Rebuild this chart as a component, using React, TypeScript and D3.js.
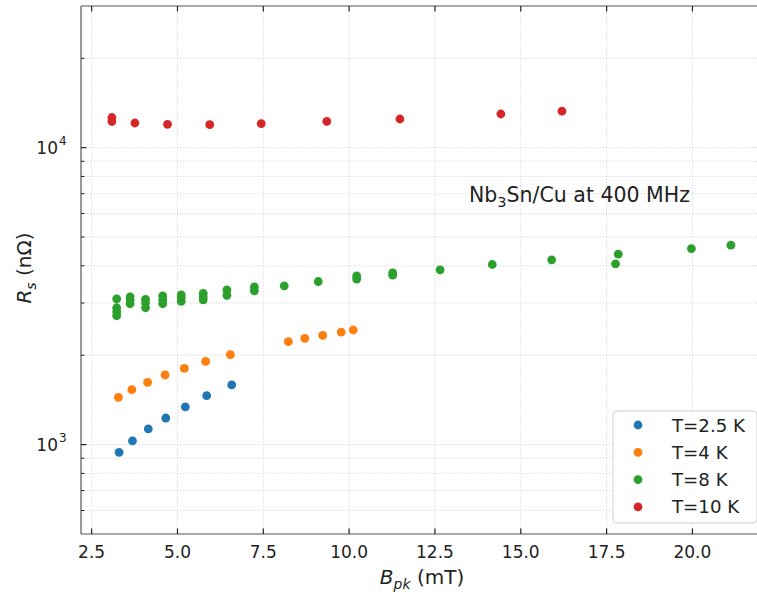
import React from "react";
import * as d3 from "d3";

const W = 757, H = 592;
const FONT = "'DejaVu Sans', sans-serif";

// T = 2.5 K
const b25 = [3.30, 3.69, 4.15, 4.66, 5.23, 5.85, 6.58];
const r25 = [942, 1029, 1129, 1229, 1339, 1462, 1588];
// T = 4 K
const b4 = [3.28, 3.67, 4.13, 4.64, 5.20, 5.82, 6.54, 8.23, 8.71, 9.23, 9.77, 10.12];
const r4 = [1443, 1531, 1620, 1716, 1806, 1906, 2008, 2221, 2279, 2332, 2394, 2432];
// T = 8 K
const b8 = [3.23, 3.23, 3.23, 3.23, 3.62, 3.62, 3.62, 4.07, 4.07, 4.07, 4.57, 4.57, 4.57,
  5.11, 5.11, 5.11, 5.75, 5.75, 5.75, 6.44, 6.44, 7.24, 7.24, 8.11, 9.10, 10.22, 10.22,
  11.27, 11.27, 12.65, 14.17, 15.90, 17.76, 17.84, 19.97, 21.12];
const r8 = [3098, 2890, 2802, 2716, 3146, 3074, 2981, 3086, 3004, 2890, 3170, 3074, 2981,
  3194, 3122, 3039, 3232, 3146, 3074, 3321, 3182, 3400, 3296, 3426, 3542, 3700, 3610,
  3790, 3720, 3879, 4042, 4191, 4063, 4379, 4574, 4696];
// T = 10 K
const b10 = [3.09, 3.09, 3.76, 4.71, 5.94, 7.44, 9.35, 11.48, 14.42, 16.20];
const r10 = [12636, 12250, 12110, 11987, 11950, 12043, 12270, 12489, 12983, 13286];

const seriesNames = ["T=2.5 K", "T=4 K", "T=8 K", "T=10 K"];
const seriesColors = ["#1f77b4", "#ff7f0e", "#2ca02c", "#d62728"];
const seriesB = [b25, b4, b8, b10];
const seriesR = [r25, r4, r8, r10];

const xTicks = [2.5, 5.0, 7.5, 10.0, 12.5, 15.0, 17.5, 20.0];
const yMajor = [1000, 10000];
const yMinor = [600, 700, 800, 900, 2000, 3000, 4000, 5000, 6000, 7000, 8000, 9000, 20000];

export default function App() {
  const left = 81, top = 6, bottom = 534;
  const xmin = 2.19, xmax = 22.2;
  const x = d3.scaleLinear().domain([xmin, xmax]).range([left, left + (xmax - xmin) * 34.33]);
  const y = d3.scaleLog().domain([500, 30000]).range([bottom, top]);
  const right = x(xmax);

  const gridStyle = { stroke: "#c8c8c8", strokeWidth: 0.8, strokeDasharray: "1.2,2" };
  const tickColor = "#222";

  return (
    <div style={{ position: "absolute", left: 0, top: 0 }}>
      <svg width={W} height={H} style={{ display: "block", background: "#fff" }} fontFamily={FONT}>
        {/* grid */}
        {xTicks.map((t) => (
          <line key={"gx" + t} x1={x(t)} x2={x(t)} y1={top} y2={bottom} {...gridStyle} />
        ))}
        {[...yMajor, ...yMinor].map((t) => (
          <line key={"gy" + t} x1={left} x2={right} y1={y(t)} y2={y(t)} {...gridStyle} />
        ))}

        {/* data */}
        {seriesB.map((bs, si) =>
          bs.map((b, i) => (
            <circle key={si + "-" + i} cx={x(b)} cy={y(seriesR[si][i])} r={4.4} fill={seriesColors[si]} />
          ))
        )}

        {/* spines */}
        <line x1={left} x2={left} y1={top} y2={bottom} stroke="#555" strokeWidth={1.2} />
        <line x1={left} x2={right} y1={bottom} y2={bottom} stroke="#555" strokeWidth={1.2} />
        <line x1={left} x2={right} y1={top} y2={top} stroke="#555" strokeWidth={1.2} />

        {/* x ticks */}
        {xTicks.map((t) => (
          <g key={"xt" + t}>
            <line x1={x(t)} x2={x(t)} y1={bottom} y2={bottom - 5.5} stroke={tickColor} strokeWidth={1.2} />
            <line x1={x(t)} x2={x(t)} y1={top} y2={top + 5.5} stroke={tickColor} strokeWidth={1.2} />
            <text x={x(t)} y={bottom + 24} textAnchor="middle" fontSize={17} fill="#222">
              {t.toFixed(1)}
            </text>
          </g>
        ))}

        {/* y ticks */}
        {yMajor.map((t) => (
          <g key={"yt" + t}>
            <line x1={left} x2={left + 5.5} y1={y(t)} y2={y(t)} stroke={tickColor} strokeWidth={1.2} />
            <text x={left - 23} y={y(t) + 6} textAnchor="end" fontSize={17} fill="#222">10</text>
            <text x={left - 22} y={y(t) - 3} textAnchor="start" fontSize={12} fill="#222">
              {Math.round(Math.log10(t))}
            </text>
          </g>
        ))}
        {yMinor.map((t) => (
          <line key={"ym" + t} x1={left} x2={left + 3.5} y1={y(t)} y2={y(t)} stroke={tickColor} strokeWidth={1} />
        ))}

        {/* axis labels */}
        <text x={422} y={584} textAnchor="middle" fontSize={20} fill="#222">
          <tspan fontStyle="italic">B</tspan>
          <tspan fontStyle="italic" fontSize={14} dy={5}>pk</tspan>
          <tspan dy={-5}> (mT)</tspan>
        </text>
        <text transform={`translate(31,${268}) rotate(-90)`} textAnchor="middle" fontSize={20} fill="#222">
          <tspan fontStyle="italic">R</tspan>
          <tspan fontStyle="italic" fontSize={14} dy={5}>s</tspan>
          <tspan dy={-5}> (nΩ)</tspan>
        </text>

        {/* annotation */}
        <text x={469} y={202} fontSize={20.5} fill="#222">
          Nb<tspan fontSize={14.5} dy={5}>3</tspan><tspan dy={-5}>Sn/Cu at 400 MHz</tspan>
        </text>

        {/* legend */}
        <rect x={613} y={411} width={144} height={112} rx={4} fill="#fff" fillOpacity={0.85} stroke="#d0d0d0" strokeWidth={1} />
        {seriesNames.map((n, i) => (
          <g key={n}>
            <circle cx={638} cy={425 + i * 27.3} r={4.4} fill={seriesColors[i]} />
            <text x={672} y={425 + i * 27.3 + 6.5} fontSize={18.2} fill="#222">{n}</text>
          </g>
        ))}
      </svg>
    </div>
  );
}
